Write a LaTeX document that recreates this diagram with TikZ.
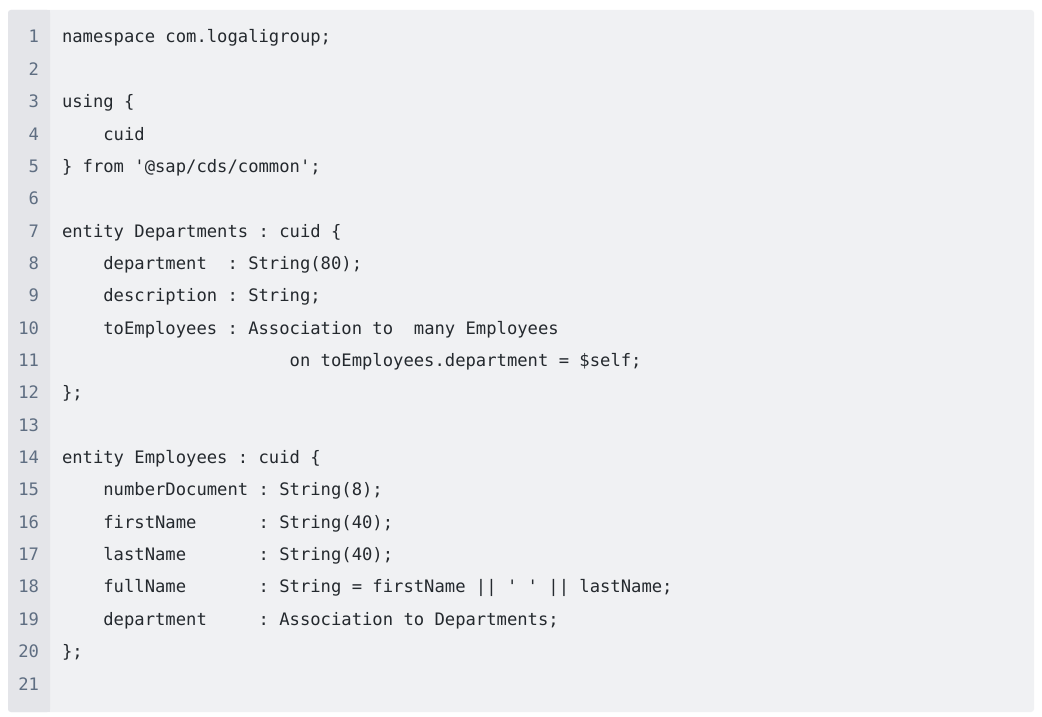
\documentclass[tikz,border=0pt]{standalone}
\usepackage{fontspec}
\setmonofont{DejaVu Sans Mono}
\definecolor{pagebg}{HTML}{FFFFFF}
\definecolor{codebg}{HTML}{F0F1F3}
\definecolor{gutterbg}{HTML}{E4E5E9}
\definecolor{codefg}{HTML}{24292E}
\definecolor{numfg}{HTML}{5F6E82}
\tikzset{
  codetxt/.style={anchor=base west, inner sep=0pt, outer sep=0pt, text=codefg,
    font=\ttfamily\fontsize{17.19}{20}\selectfont},
  numtxt/.style={anchor=base east, inner sep=0pt, outer sep=0pt, text=numfg,
    font=\ttfamily\fontsize{17.19}{20}\selectfont},
}
\newcommand\cw{10.35}
\newcommand\lh{32.35}
\newcommand\cl[4]{\node[codetxt] (#1) at ({62+#3*\cw}, {43+(#2-1)*\lh}) {#4};}
\begin{document}
\begin{tikzpicture}[x=1pt,y=-1pt]
\useasboundingbox (0,0) rectangle (1042,717);
\fill[pagebg] (0,0) rectangle (1042,717);
\fill[codebg, rounded corners=3pt] (8,10) rectangle (1034,712);
\fill[gutterbg, rounded corners=3pt] (8,10) rectangle (50,712);
\fill[gutterbg] (30,10) rectangle (50,712);
% line numbers
\foreach \i in {1,...,21}{
  \node[numtxt] (n\i) at (39, {43+(\i-1)*\lh}) {\i};
}
% code
\cl{c1}{1}{0}{namespace com.logaligroup;}
\cl{c3}{3}{0}{using \{}
\cl{c4}{4}{4}{cuid}
\cl{c5}{5}{0}{\} from '@sap/cds/common';}
\cl{c7}{7}{0}{entity Departments : cuid \{}
\cl{c8a}{8}{4}{department}
\cl{c8b}{8}{16}{: String(80);}
\cl{c9}{9}{4}{description : String;}
\cl{c10a}{10}{4}{toEmployees : Association to}
\cl{c10b}{10}{34}{many Employees}
\cl{c11}{11}{22}{on toEmployees.department = \$self;}
\cl{c12}{12}{0}{\};}
\cl{c14}{14}{0}{entity Employees : cuid \{}
\cl{c15}{15}{4}{numberDocument : String(8);}
\cl{c16a}{16}{4}{firstName}
\cl{c16b}{16}{19}{: String(40);}
\cl{c17a}{17}{4}{lastName}
\cl{c17b}{17}{19}{: String(40);}
\cl{c18a}{18}{4}{fullName}
\cl{c18b}{18}{19}{: String = firstName || ' ' || lastName;}
\cl{c19a}{19}{4}{department}
\cl{c19b}{19}{19}{: Association to Departments;}
\cl{c20}{20}{0}{\};}
\end{tikzpicture}
\end{document}
